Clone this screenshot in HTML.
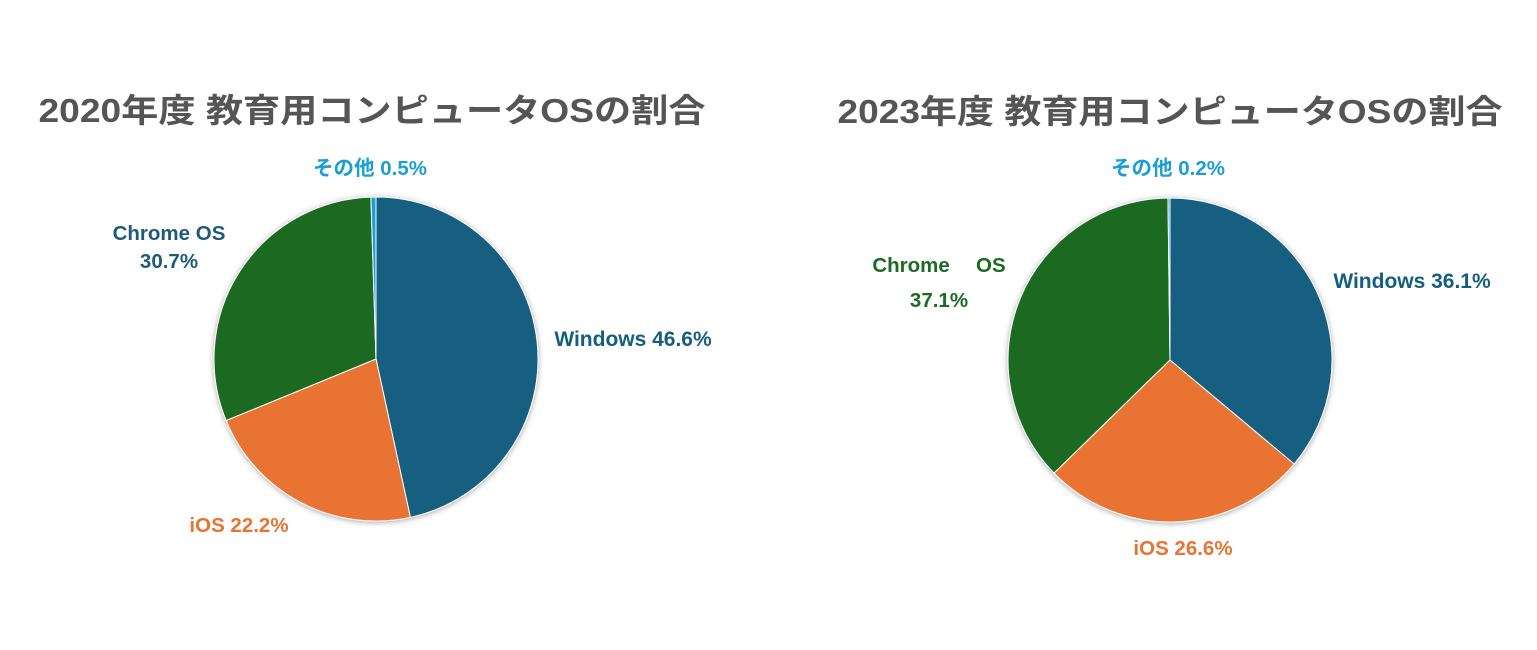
<!DOCTYPE html>
<html><head><meta charset="utf-8"><style>
body{margin:0;background:#fff;}
svg{display:block;}
text{font-family:"Liberation Sans","Noto Sans CJK JP",sans-serif;font-weight:bold;}
</style></head><body>
<svg id="s" width="1537" height="650" viewBox="0 0 1537 650">
<defs><filter id="sh" x="-10%" y="-10%" width="120%" height="120%"><feGaussianBlur in="SourceAlpha" stdDeviation="3"/><feOffset dx="0" dy="1"/><feComponentTransfer><feFuncA type="linear" slope="0.35"/></feComponentTransfer><feMerge><feMergeNode/><feMergeNode in="SourceGraphic"/></feMerge></filter></defs>
<g id="p1" filter="url(#sh)"></g>
<g id="p2" filter="url(#sh)"></g>
<text x="372" y="122" font-size="33" fill="#555" text-anchor="middle" textLength="667" lengthAdjust="spacingAndGlyphs">2020年度 教育用コンピュータOSの割合</text>
<text x="1170" y="123" font-size="33" fill="#555" text-anchor="middle" textLength="665" lengthAdjust="spacingAndGlyphs">2023年度 教育用コンピュータOSの割合</text>
<text x="370" y="175" font-size="20.5" fill="#1a9fd4" text-anchor="middle">その他 0.5%</text>
<text x="169" y="240" font-size="20.5" fill="#1d5b7a" text-anchor="middle">Chrome OS</text>
<text x="169" y="268" font-size="20.5" fill="#1d5b7a" text-anchor="middle">30.7%</text>
<text x="633" y="346" font-size="21" fill="#155e80" text-anchor="middle">Windows 46.6%</text>
<text x="239" y="532" font-size="20.5" fill="#e87332" text-anchor="middle">iOS 22.2%</text>
<text x="1168" y="175" font-size="20.5" fill="#1a9fd4" text-anchor="middle">その他 0.2%</text>
<text x="939" y="272" font-size="20.5" fill="#1b6b22" text-anchor="middle">Chrome　 OS</text>
<text x="939" y="307" font-size="20.5" fill="#1b6b22" text-anchor="middle">37.1%</text>
<text x="1412" y="288" font-size="21" fill="#155e80" text-anchor="middle">Windows 36.1%</text>
<text x="1183" y="555" font-size="20.5" fill="#e87332" text-anchor="middle">iOS 26.6%</text>
</svg>
<script>
function pie(id,cx,cy,r,vals,cols){var g=document.getElementById(id),a=0,h='';
for(var i=0;i<vals.length;i++){var a2=a+vals[i]/100*2*Math.PI;
var x1=cx+r*Math.sin(a),y1=cy-r*Math.cos(a),x2=cx+r*Math.sin(a2),y2=cy-r*Math.cos(a2);
h+='<path d="M'+cx+' '+cy+'L'+x1+' '+y1+'A'+r+' '+r+' 0 '+(a2-a>Math.PI?1:0)+' 1 '+x2+' '+y2+'Z" fill="'+cols[i]+'" stroke="#fff" stroke-width="1"/>';a=a2;}
g.innerHTML=h;}
var c=['#155e80','#e87332','#1b6b22','#1a9fd4'];
pie('p1',376,359,162,[46.6,22.2,30.7,0.5],c);
pie('p2',1170,360,162,[36.1,26.6,37.1,0.2],c);
</script>
</body></html>
